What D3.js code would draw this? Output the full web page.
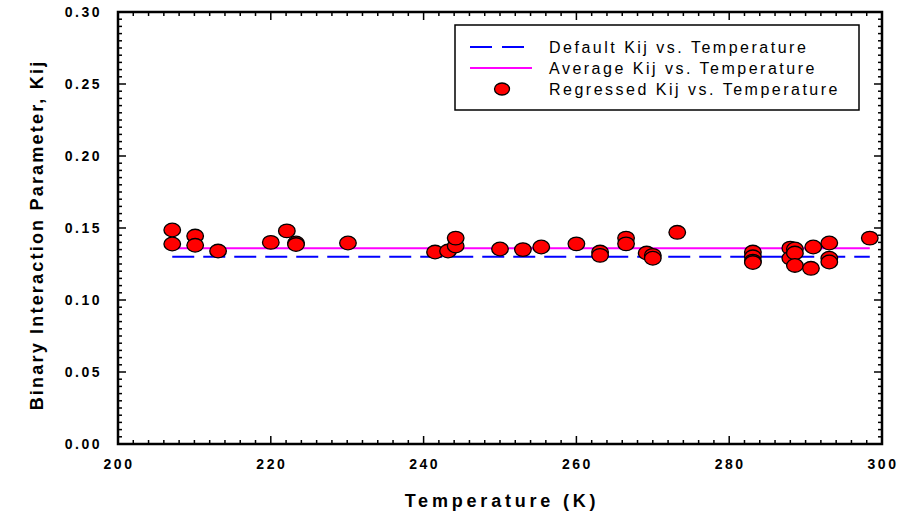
<!DOCTYPE html>
<html>
<head>
<meta charset="utf-8">
<script src="https://cdn.jsdelivr.net/npm/d3@7"></script>
<style>
  body { margin: 0; background: #fff; }
  text { font-family: "Liberation Sans", Arial, sans-serif; }
</style>
</head>
<body>
<div id="chart"></div>
<script>
(function() {
  var width = 912,
      height = 515;

  var margin = {top: 12, right: 30, bottom: 71, left: 118};

  // regressed points
  var temps = [207.1, 207.1, 210.1, 210.1, 213.1, 220.0, 222.1, 223.3, 223.3, 230.1,
               241.5, 243.2, 244.2, 244.2, 250.0, 253.0, 255.4, 260.0, 263.1, 263.1,
               266.5, 266.5, 269.2, 270.0, 270.0, 273.2, 283.1, 283.1, 283.1, 283.1,
               288.0, 288.0, 288.6, 288.6, 288.6, 291.0, 290.7, 293.1, 293.1, 293.1, 298.4];
  var kijs  = [0.1486, 0.1389, 0.1444, 0.1380, 0.1340, 0.1400, 0.1480, 0.1396, 0.1385, 0.1396,
               0.1333, 0.1340, 0.1375, 0.1430, 0.1354, 0.1350, 0.1368, 0.1390, 0.1333, 0.1310,
               0.1430, 0.1390, 0.1326, 0.1310, 0.1290, 0.1470, 0.1333, 0.1300, 0.1270, 0.1260,
               0.1360, 0.1290, 0.1354, 0.1326, 0.1240, 0.1368, 0.1220, 0.1396, 0.1290, 0.1264, 0.1430];

  var lineRange = [207.1, 298.4];
  var defaultKij = 0.13;
  var averageKij = 0.136;

  var xTicks = [200, 220, 240, 260, 280, 300];
  var yTicks = [0, 0.05, 0.10, 0.15, 0.20, 0.25, 0.30];

  var legendLabels = ["Default Kij vs. Temperature", "Average Kij vs. Temperature", "Regressed Kij vs. Temperature"];

  var points = temps.map(function(t, i) { return {t: t, k: kijs[i]}; });

  var svg = d3.select("#chart")
    .append("svg")
    .attr("width", width)
    .attr("height", height);

  var x = d3.scaleLinear().domain([200, 300]).range([margin.left, width - margin.right]);
  var y = d3.scaleLinear().domain([0, 0.30]).range([height - margin.bottom, margin.top]);

  var x0 = x(200), x1 = x(300), y0 = y(0), y1 = y(0.30);

  // minor + major ticks, all pointing inward
  var xMinor = d3.range(200, 300.01, 2);
  var yMinor = d3.range(0, 0.3001, 0.005);
  var g = svg.append("g").attr("stroke", "#000").attr("stroke-width", 1.5);

  xMinor.forEach(function(v) {
    var major = Math.abs((v - 200) % 20) < 1e-6;
    var len = major ? 8 : 4;
    g.append("line").attr("x1", x(v)).attr("x2", x(v)).attr("y1", y0).attr("y2", y0 - len);
    g.append("line").attr("x1", x(v)).attr("x2", x(v)).attr("y1", y1).attr("y2", y1 + len);
  });
  yMinor.forEach(function(v, i) {
    var major = i % 10 === 0;
    var len = major ? 8 : 4;
    g.append("line").attr("y1", y(v)).attr("y2", y(v)).attr("x1", x0).attr("x2", x0 + len);
    g.append("line").attr("y1", y(v)).attr("y2", y(v)).attr("x1", x1).attr("x2", x1 - len);
  });

  // frame
  svg.append("rect")
    .attr("x", x0).attr("y", y1)
    .attr("width", x1 - x0).attr("height", y0 - y1)
    .attr("fill", "none").attr("stroke", "#000").attr("stroke-width", 2.5);

  // tick labels
  svg.selectAll(".xlab").data(xTicks).enter().append("text")
    .attr("x", function(d) { return x(d) + 1; })
    .attr("y", y0 + 25)
    .attr("text-anchor", "middle")
    .attr("font-size", 14).attr("font-weight", "bold")
    .attr("letter-spacing", 2.5)
    .text(function(d) { return d; });

  svg.selectAll(".ylab").data(yTicks).enter().append("text")
    .attr("x", x0 - 16)
    .attr("y", function(d) { return y(d) + 5; })
    .attr("text-anchor", "end")
    .attr("font-size", 14).attr("font-weight", "bold")
    .attr("letter-spacing", 2.5)
    .text(function(d) { return d.toFixed(2); });

  // axis titles
  svg.append("text")
    .attr("x", (x0 + x1) / 2 + 2)
    .attr("y", 507)
    .attr("text-anchor", "middle")
    .attr("font-size", 18).attr("font-weight", "bold")
    .attr("letter-spacing", 3.8)
    .text("Temperature (K)");

  svg.append("text")
    .attr("transform", "translate(43,235) rotate(-90)")
    .attr("text-anchor", "middle")
    .attr("font-size", 18).attr("font-weight", "bold")
    .attr("letter-spacing", 2.2)
    .text("Binary Interaction Parameter, Kij");

  // reference lines
  svg.append("line")
    .attr("x1", x(lineRange[0])).attr("x2", x(lineRange[1]))
    .attr("y1", y(averageKij)).attr("y2", y(averageKij))
    .attr("stroke", "#ff00ff").attr("stroke-width", 2);

  svg.append("line")
    .attr("x1", x(lineRange[0])).attr("x2", x(lineRange[1]))
    .attr("y1", y(defaultKij)).attr("y2", y(defaultKij))
    .attr("stroke", "#0000ff").attr("stroke-width", 2)
    .attr("stroke-dasharray", "22,9");

  // regressed points
  svg.selectAll(".pt").data(points).enter().append("ellipse")
    .attr("class", "pt")
    .attr("cx", function(d) { return x(d.t); })
    .attr("cy", function(d) { return y(d.k); })
    .attr("rx", 8.3).attr("ry", 6.8)
    .attr("fill", "#ff0000").attr("stroke", "#000").attr("stroke-width", 1.3);

  // legend
  var lg = svg.append("g").attr("transform", "translate(455,25)");
  lg.append("rect").attr("width", 404).attr("height", 85)
    .attr("fill", "#fff").attr("stroke", "#000").attr("stroke-width", 1.5);

  lg.append("line").attr("x1", 15).attr("x2", 69).attr("y1", 22).attr("y2", 22)
    .attr("stroke", "#0000ff").attr("stroke-width", 2).attr("stroke-dasharray", "22,10");
  lg.append("line").attr("x1", 15).attr("x2", 77).attr("y1", 43).attr("y2", 43)
    .attr("stroke", "#ff00ff").attr("stroke-width", 2);
  lg.append("ellipse").attr("cx", 47).attr("cy", 64).attr("rx", 7.5).attr("ry", 6)
    .attr("fill", "#ff0000").attr("stroke", "#000").attr("stroke-width", 1.3);

  lg.selectAll(".ltxt").data(legendLabels).enter().append("text")
    .attr("x", 94)
    .attr("y", function(d, i) { return 28 + i * 21; })
    .attr("font-size", 16)
    .attr("letter-spacing", 2.5)
    .text(function(d) { return d; });
})();
</script>
</body>
</html>
